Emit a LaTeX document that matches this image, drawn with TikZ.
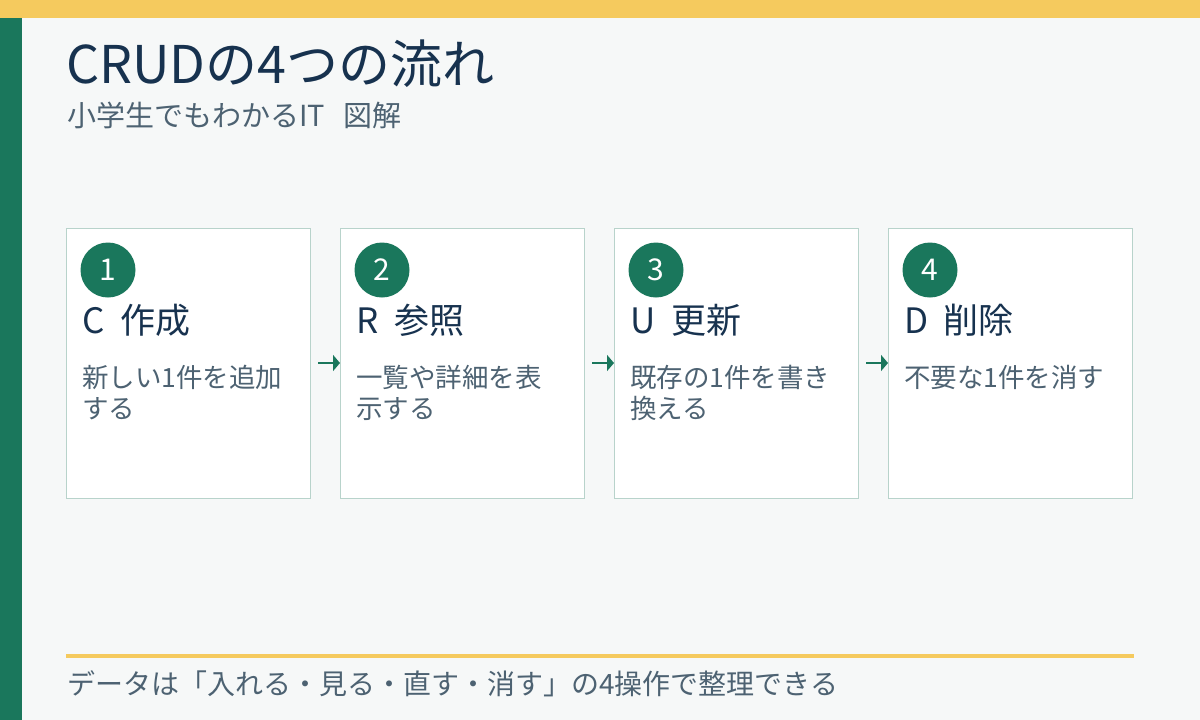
\documentclass[tikz,border=0pt]{standalone}
\usepackage{fontspec}
\setmainfont{Noto Sans CJK JP}
\usetikzlibrary{arrows.meta,positioning,calc}
\definecolor{bg}{HTML}{F6F8F8}
\definecolor{yel}{HTML}{F5CA5E}
\definecolor{grn}{HTML}{1A775C}
\definecolor{navy}{HTML}{17324F}
\definecolor{gry}{HTML}{4D6272}
\definecolor{cardline}{HTML}{B8D3CB}
\newcommand{\toplines}[1]{\begin{tabular}[t]{@{}l@{}}#1\end{tabular}}
\tikzset{
  card/.style={draw=cardline,line width=1.2pt,fill=white,minimum width=244pt,minimum height=270pt,inner sep=0pt,anchor=north west},
  numc/.style={circle,fill=grn,minimum size=55pt,inner sep=0pt,text=white,font=\fontsize{30}{30}\selectfont},
  head/.style={anchor=base west,inner sep=0pt,text=navy,font=\fontsize{35}{35}\selectfont},
  body/.style={anchor=base west,inner sep=0pt,text=gry,font=\fontsize{26.5}{31}\selectfont},
  flow/.style={draw=grn,line width=1.6pt,-{Triangle[length=7pt,width=16pt]},shorten <=7pt},
}
\begin{document}
\begin{tikzpicture}[x=1pt,y=-1pt]
\useasboundingbox (0,0) rectangle (1200,720);
\fill[bg] (0,0) rectangle (1200,720);
\fill[yel] (0,0) rectangle (1200,18);
\fill[grn] (0,18) rectangle (22,720);
\node[anchor=base west,inner sep=0pt,text=navy,font=\fontsize{52}{52}\selectfont] (title) at (66,83) {CRUDの4つの流れ};
\node[anchor=base west,inner sep=0pt,text=gry,font=\fontsize{29}{29}\selectfont] (sub) at (67,126) {小学生でもわかるIT\hspace{18pt}図解};
\foreach \i/\x/\l/\h/\b in {1/66/C/作成/{新しい1件を追加\\する},2/340/R/参照/{一覧や詳細を表\\示する},3/614/U/更新/{既存の1件を書き\\換える},4/888/D/削除/{不要な1件を消す}}{
  \node[card] (card\i) at (\x,228) {};
  \node[numc] (num\i) at (\x+42,270) {\i};
  \node[head] (head\i) at (\x+16,333) {\l\ \ \h};
  \node[body] (body\i) at (\x+16,387) {\toplines{\b}};
}
\foreach \a/\b in {1/2,2/3,3/4}{
  \draw[flow] (card\a.east |- 0,363) -- (card\b.west |- 0,363);
}
\fill[yel] (66,654) rectangle (1134,658);
\node[anchor=base west,inner sep=0pt,text=gry,font=\fontsize{28}{28}\selectfont] (foot) at (67,694) {データは「入れる・見る・直す・消す」の4操作で整理できる};
\end{tikzpicture}
\end{document}
